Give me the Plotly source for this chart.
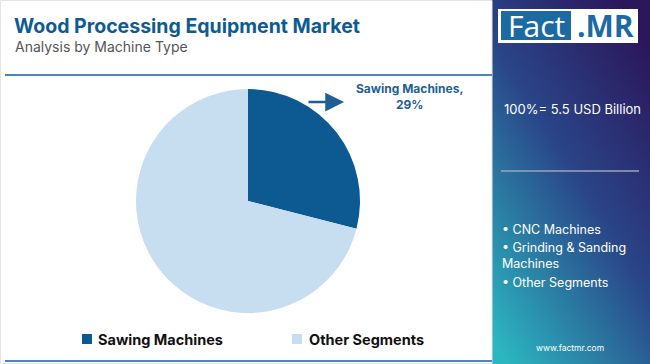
import base64
import plotly.graph_objects as go

# ---- data ----
labels = ["Sawing Machines", "Other Segments"]
values = [29, 71]
colors = ["#0d5a92", "#c6def0"]
title_text = "Wood Processing Equipment Market"
subtitle_text = "Analysis by Machine Type"
total_text = "100%= 5.5 USD Billion"
other_segments = ["CNC Machines", "Grinding & Sanding<br>Machines", "Other Segments"]

W, H = 650, 364

def px(x):
    return x / W

def py(y):
    return 1 - y / H

fig = go.Figure()
fig.add_trace(go.Pie(
    labels=labels, values=values, sort=False, direction="clockwise", rotation=0,
    marker=dict(colors=colors, line=dict(width=0)),
    textinfo="none", hoverinfo="label+percent",
    domain=dict(x=[px(136), px(360)], y=[py(313), py(89)]),
    showlegend=False,
))

svg = '''<svg xmlns="http://www.w3.org/2000/svg" width="160" height="364" viewBox="0 0 160 364" preserveAspectRatio="none">
<defs><linearGradient id="g" x1="0.8" y1="0" x2="0.1" y2="1">
<stop offset="0" stop-color="#2b175c"/>
<stop offset="0.45" stop-color="#2a4588"/>
<stop offset="1" stop-color="#2bb6c0"/>
</linearGradient></defs>
<rect width="160" height="364" fill="url(#g)"/></svg>'''
uri = "data:image/svg+xml;base64," + base64.b64encode(svg.encode()).decode()

fig.add_layout_image(dict(source=uri, xref="paper", yref="paper", x=px(492), y=1,
                          sizex=px(158), sizey=1, xanchor="left", yanchor="top",
                          sizing="stretch", layer="below"))

shapes = [
    dict(type="rect", xref="paper", yref="paper", x0=px(0.5), x1=px(492), y0=py(363.5), y1=py(0.5),
         line=dict(color="#e4e4e4", width=1), fillcolor="rgba(0,0,0,0)"),
    dict(type="line", xref="paper", yref="paper", x0=px(5), x1=px(492), y0=py(75), y1=py(75),
         line=dict(color="#4a86b8", width=2)),
    dict(type="line", xref="paper", yref="paper", x0=px(5), x1=px(492), y0=py(361), y1=py(361),
         line=dict(color="#4a86b8", width=2)),
    dict(type="line", xref="paper", yref="paper", x0=px(501), x1=px(639), y0=py(171), y1=py(171),
         line=dict(color="#9aa3c4", width=1.5)),
    # logo box
    dict(type="rect", xref="paper", yref="paper", x0=px(498), x1=px(638), y0=py(43), y1=py(9),
         line=dict(width=0), fillcolor="white"),
    dict(type="rect", xref="paper", yref="paper", x0=px(501), x1=px(571), y0=py(40), y1=py(11),
         line=dict(width=0), fillcolor="#1d6aa3"),
]

# manual legend
leg_x = [82, 292]
for i, lab in enumerate(labels):
    shapes.append(dict(type="rect", xref="paper", yref="paper",
                       x0=px(leg_x[i]), x1=px(leg_x[i] + 10), y0=py(344), y1=py(334),
                       line=dict(width=0), fillcolor=colors[i]))

ann = [
    dict(text="<b>" + title_text + "</b>", x=px(12), y=py(26), xanchor="left", yanchor="middle",
         font=dict(family="Inter", size=19.5, color="#0e5b92")),
    dict(text=subtitle_text, x=px(13), y=py(46), xanchor="left", yanchor="middle",
         font=dict(family="Inter", size=14, color="#555555")),
    dict(text="<b>Sawing Machines,<br>29%</b>", x=px(409), y=py(97), xanchor="center", yanchor="middle",
         font=dict(family="Inter", size=12, color="#1f5f94"), align="center"),
    dict(text="", x=px(344), y=py(102), ax=-37, ay=0, axref="pixel", ayref="pixel",
         showarrow=True, arrowhead=2, arrowsize=1.5, arrowwidth=2.5, arrowcolor="#1f5f94"),
    dict(text="Fact", x=px(536), y=py(26), xanchor="center", yanchor="middle",
         font=dict(family="Open Sans", size=30, color="white")),
    dict(text="<b>.MR</b>", x=px(605), y=py(26), xanchor="center", yanchor="middle",
         font=dict(family="Open Sans", size=30, color="#1d6aa3")),
    dict(text=total_text, x=px(502), y=py(109), xanchor="left", yanchor="middle",
         font=dict(family="Inter", size=13, color="white")),
    dict(text="www.factmr.com", x=px(570), y=py(348), xanchor="center", yanchor="middle",
         font=dict(family="Inter", size=8.5, color="white")),
]
seg_y = [229, 255.5, 282]
for s, yy in zip(other_segments, seg_y):
    ann.append(dict(text="• " + s, x=px(500), y=py(yy), xanchor="left", yanchor="middle",
                    align="left", font=dict(family="Inter", size=12.5, color="white")))
leg_tx = [96, 307]
for i, lab in enumerate(labels):
    ann.append(dict(text="<b>" + lab + "</b>", x=px(leg_tx[i]), y=py(339), xanchor="left",
                    yanchor="middle", font=dict(family="Inter", size=14.5, color="#111111")))
for a in ann:
    a.setdefault("xref", "paper")
    a.setdefault("yref", "paper")
    a.setdefault("showarrow", False)

fig.update_layout(
    width=W, height=H, margin=dict(l=0, r=0, t=0, b=0),
    paper_bgcolor="white", plot_bgcolor="white",
    shapes=shapes, annotations=ann, showlegend=False,
)

fig.write_html("out.html", config={"displayModeBar": False},
               post_script="document.body.style.margin='0';document.body.style.overflow='hidden';")
